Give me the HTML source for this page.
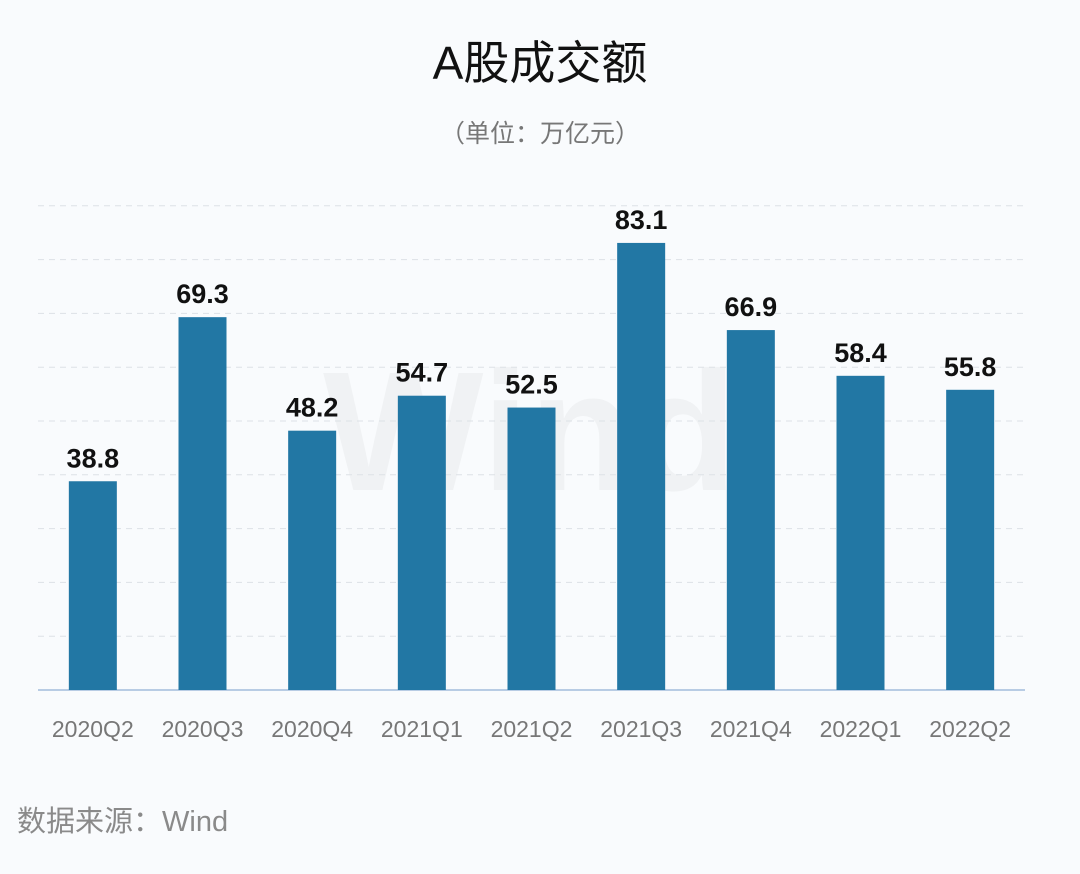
<!DOCTYPE html>
<html><head><meta charset="utf-8"><style>
html,body{margin:0;padding:0;background:#f9fbfd;}
body{width:1080px;height:874px;overflow:hidden;position:relative;font-family:"Liberation Sans","Noto Sans CJK SC",sans-serif;}
.t{position:absolute;left:0;width:1080px;text-align:center;}
</style></head><body>
<div class="t" style="top:27px;font-size:46px;color:#111;">A股成交额</div>
<div class="t" style="top:114px;font-size:25px;color:#777;">（单位：万亿元）</div>
<svg id="c" width="1080" height="874" style="position:absolute;left:0;top:0">
<text x="530" y="490" text-anchor="middle" font-size="170" font-weight="bold" fill="#000" opacity="0.03" font-family="Liberation Sans">Wind</text>
</svg>
<div style="position:absolute;left:17px;top:798px;font-size:29px;color:#8a8a8a;">数据来源：Wind</div>
<script>
const categories=["2020Q2","2020Q3","2020Q4","2021Q1","2021Q2","2021Q3","2021Q4","2022Q1","2022Q2"];
const values=[38.8,69.3,48.2,54.7,52.5,83.1,66.9,58.4,55.8];
const gridTicks=[10,20,30,40,50,60,70,80,90];
const svg=document.getElementById('c');
const NS='http://www.w3.org/2000/svg';
const x0=38,x1=1025,y0=690,pxPerUnit=5.38,barW=48;
const band=(x1-x0)/categories.length;
const xc=i=>x0+band*(i+0.5);
const y=v=>y0-v*pxPerUnit;
function mk(t,a){const e=document.createElementNS(NS,t);for(const k in a)e.setAttribute(k,a[k]);svg.appendChild(e);return e;}
gridTicks.forEach(g=>{
 const l=mk('line',{x1:x0,x2:x1,y1:y(g),y2:y(g),stroke:'#dde1e6','stroke-dasharray':'6,5','stroke-width':1});
 
 
});
const ax=mk('line',{x1:x0,x2:x1,y1:y0,y2:y0,stroke:'#b8cce4','stroke-width':2});


values.forEach((v,i)=>{
 const r=mk('rect',{x:xc(i)-barW/2,y:y(v),width:barW,height:y0-y(v),fill:'#2277a4'});
 
 
 const t=mk('text',{x:xc(i),y:y(v)-14,'text-anchor':'middle','font-size':27,'font-weight':'bold',fill:'#111','font-family':'Liberation Sans'});
 t.textContent=v.toFixed(1);
 
 
 const c=mk('text',{x:xc(i),y:737,'text-anchor':'middle','font-size':23,fill:'#777','font-family':'Liberation Sans'});
 c.textContent=categories[i];
 
 
});
</script>
</body></html>
